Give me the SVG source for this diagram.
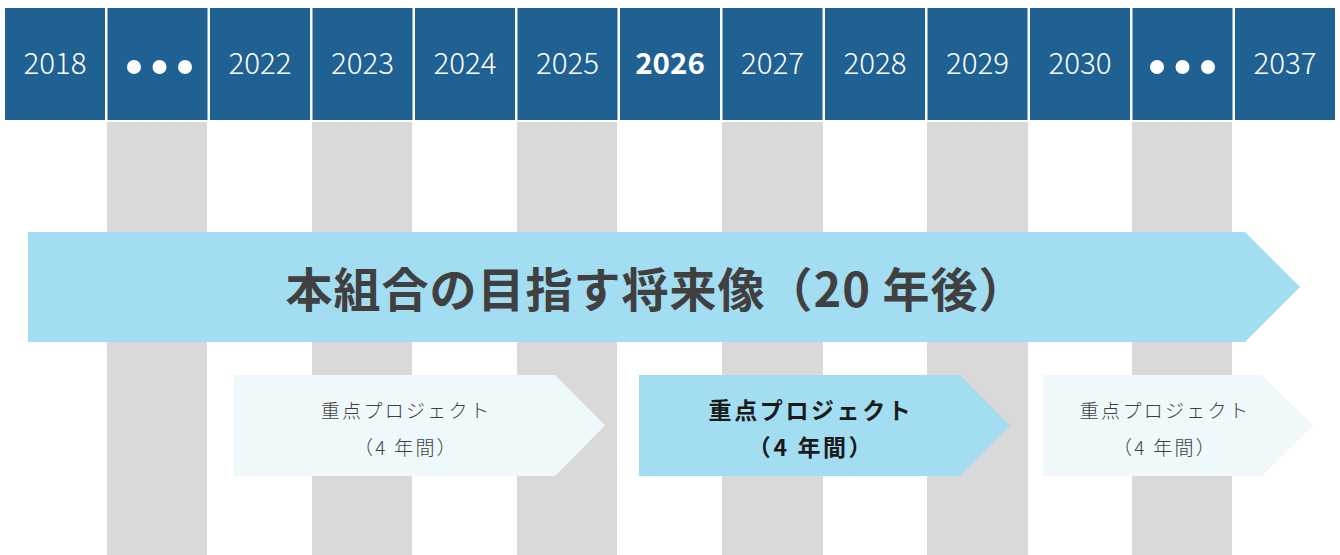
<svg xmlns="http://www.w3.org/2000/svg" width="1340" height="555" viewBox="0 0 1340 555">
<style>
.cell{fill:#1f6193}
.col{fill:#d9d9d9}
.yr{font-family:"Noto Sans CJK JP","Noto Sans",sans-serif;font-size:29.5px;fill:#ffffff;text-anchor:middle;font-weight:300}
.dot{fill:#ffffff}
.main{font-family:"Noto Sans CJK JP",sans-serif;font-size:47px;font-weight:bold;fill:#404040;text-anchor:middle;letter-spacing:1px}
.pj{font-family:"Noto Sans CJK JP",sans-serif;font-size:19px;fill:#404040;text-anchor:middle;letter-spacing:2.3px;font-weight:300}
.pjb{font-family:"Noto Sans CJK JP",sans-serif;font-size:23px;fill:#1a1a1a;text-anchor:middle;letter-spacing:2.6px;font-weight:bold}
</style>
<rect width="1340" height="555" fill="#ffffff"/>
<g id="columns">
<rect class="col" x="107" y="122" width="100" height="433"/>
<rect class="col" x="312" y="122" width="100" height="433"/>
<rect class="col" x="517" y="122" width="100" height="433"/>
<rect class="col" x="722" y="122" width="101" height="433"/>
<rect class="col" x="927" y="122" width="101" height="433"/>
<rect class="col" x="1132" y="122" width="100" height="433"/>
</g>
<g id="header">
<rect class="cell" x="5" y="8" width="100" height="112"/>
<rect class="cell" x="107.5" y="8" width="100" height="112"/>
<rect class="cell" x="210" y="8" width="100" height="112"/>
<rect class="cell" x="312.5" y="8" width="100" height="112"/>
<rect class="cell" x="415" y="8" width="100" height="112"/>
<rect class="cell" x="517.5" y="8" width="100" height="112"/>
<rect class="cell" x="620" y="8" width="100" height="112"/>
<rect class="cell" x="722.5" y="8" width="100" height="112"/>
<rect class="cell" x="825" y="8" width="100" height="112"/>
<rect class="cell" x="927.5" y="8" width="100" height="112"/>
<rect class="cell" x="1030" y="8" width="100" height="112"/>
<rect class="cell" x="1132.5" y="8" width="100" height="112"/>
<rect class="cell" x="1235" y="8" width="100" height="112"/>
<text class="yr" x="55" y="74">2018</text>
<circle class="dot" cx="134" cy="67" r="7"/><circle class="dot" cx="159.5" cy="67" r="7"/><circle class="dot" cx="185" cy="67" r="7"/>
<text class="yr" x="260" y="74">2022</text>
<text class="yr" x="362.5" y="74">2023</text>
<text class="yr" x="465" y="74">2024</text>
<text class="yr" x="567.5" y="74">2025</text>
<text class="yr" x="670" y="74" style="font-weight:bold">2026</text>
<text class="yr" x="772.5" y="74">2027</text>
<text class="yr" x="875" y="74">2028</text>
<text class="yr" x="977.5" y="74">2029</text>
<text class="yr" x="1080" y="74">2030</text>
<circle class="dot" cx="1157" cy="67" r="7"/><circle class="dot" cx="1182.5" cy="67" r="7"/><circle class="dot" cx="1208" cy="67" r="7"/>
<text class="yr" x="1285" y="74">2037</text>
</g>
<g id="vision">
<polygon points="28,232 1245,232 1300,287 1245,342 28,342" fill="#a3ddf2"/>
<text class="main" x="656" y="307">本組合の目指す将来像（20 年後）</text>
</g>
<g id="project1">
<polygon points="234,375 555,375 605,425.5 555,476 234,476" fill="#eff8fb"/>
<text class="pj" x="406" y="418">重点プロジェクト</text>
<text class="pj" x="406" y="455">（4 年間）</text>
</g>
<g id="project2">
<polygon points="639,375 960,375 1010,425.5 960,476 639,476" fill="#a3ddf2"/>
<text class="pjb" x="811" y="419">重点プロジェクト</text>
<text class="pjb" x="811" y="456">（4 年間）</text>
</g>
<g id="project3">
<polygon points="1043,375 1262,375 1313,425.5 1262,476 1043,476" fill="#eff8fb"/>
<text class="pj" x="1165" y="418">重点プロジェクト</text>
<text class="pj" x="1165" y="455">（4 年間）</text>
</g>
</svg>
